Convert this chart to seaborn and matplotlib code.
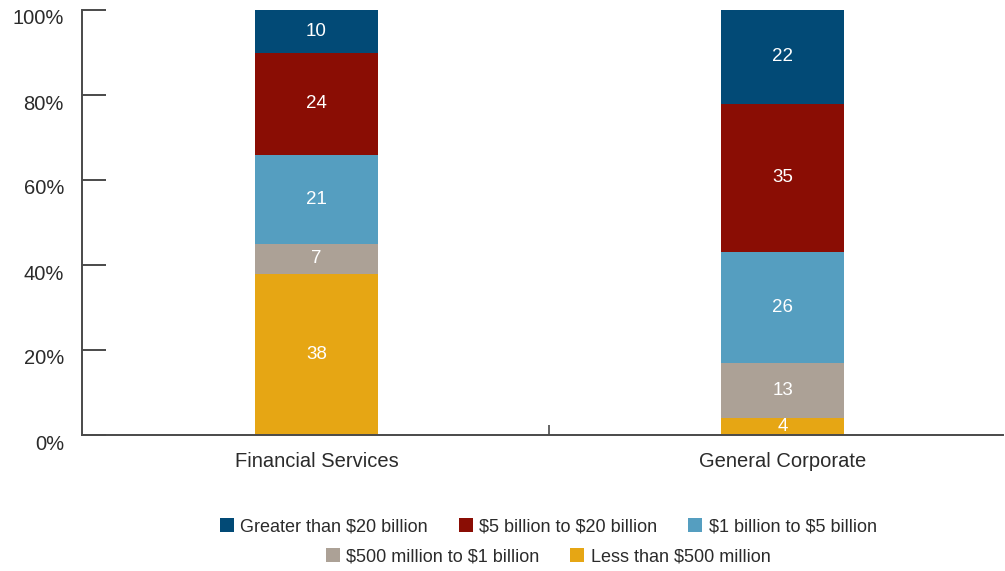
import numpy as np
import pandas as pd
import matplotlib
matplotlib.use("Agg")
import matplotlib.pyplot as plt
import matplotlib.transforms as mtransforms
from matplotlib.lines import Line2D
import seaborn as sns

# Share of companies by size, per sector (percent)
sectors = ["Financial Services", "General Corporate"]
size_bands = [
    "Less than $500 million",
    "$500 million to $1 billion",
    "$1 billion to $5 billion",
    "$5 billion to $20 billion",
    "Greater than $20 billion",
]
less_500m = [38, 4]
m500_to_1b = [7, 13]
b1_to_5b = [21, 26]
b5_to_20b = [24, 35]
over_20b = [10, 22]

band_colors = ["#e6a614", "#aca196", "#559ec0", "#8a0d04", "#024a76"]

sns.set_theme(style="white")
plt.rcParams["font.family"] = ["Liberation Sans", "DejaVu Sans"]
plt.rcParams["text.parse_math"] = False

series = [less_500m, m500_to_1b, b1_to_5b, b5_to_20b, over_20b]
cumulative = np.cumsum(np.array(series), axis=0)

fig = plt.figure(figsize=(10.05, 5.71), dpi=100)
ax = fig.add_axes([82 / 1005, 1 - 435 / 571, (1003 - 82) / 1005, (435 - 10) / 571])

# Stack by overlaying cumulative totals, tallest first
for i in range(len(series) - 1, -1, -1):
    df = pd.DataFrame({"sector": sectors, "value": cumulative[i]})
    sns.barplot(data=df, x="sector", y="value", color=band_colors[i],
                saturation=1, width=0.264, ax=ax, linewidth=0)

# Segment labels
for j in range(len(sectors)):
    for i in range(len(series)):
        top = cumulative[i][j]
        bottom = top - series[i][j]
        ax.text(j, (top + bottom) / 2, str(series[i][j]), ha="center", va="center",
                color="white", fontsize=13.5)

ax.set_xlim(-0.503, 1.473)
ax.set_ylim(0, 100)
ax.set_yticks([0, 20, 40, 60, 80, 100])
ax.set_yticklabels([f"{v}%" for v in [0, 20, 40, 60, 80, 100]])
ax.set_xlabel("")
ax.set_ylabel("")

for side in ["top", "right"]:
    ax.spines[side].set_visible(False)
for side in ["left", "bottom"]:
    ax.spines[side].set_color("#4a4a4a")
    ax.spines[side].set_linewidth(1.4)

ax.tick_params(axis="y", direction="in", length=17, width=1.4, color="#4a4a4a",
               pad=13, labelsize=14.5, labelcolor="#2b2b2b", left=True)
ax.tick_params(axis="x", length=0, pad=12, labelsize=14.5, labelcolor="#2b2b2b")
ax.set_xticks([0.5], minor=True)
ax.tick_params(axis="x", which="minor", direction="in", length=7, width=1.2,
               color="#4a4a4a", bottom=True)

offset = mtransforms.ScaledTranslation(0, -7 / 100, fig.dpi_scale_trans)
for lbl in ax.get_yticklabels():
    lbl.set_transform(lbl.get_transform() + offset)

def handle(c):
    return Line2D([], [], marker="s", linestyle="none", markersize=10,
                  markerfacecolor=c, markeredgewidth=0)

row1 = [4, 3, 2]
row2 = [1, 0]
common = dict(frameon=False, fontsize=13, handletextpad=0.35, columnspacing=1.7,
              handlelength=0.8, labelcolor="#2b2b2b", borderaxespad=0)
leg1 = fig.legend([handle(band_colors[i]) for i in row1],
                  [size_bands[i] for i in row1], ncol=3,
                  loc="center", bbox_to_anchor=(548 / 1005, 1 - 527 / 571), **common)
leg2 = fig.legend([handle(band_colors[i]) for i in row2],
                  [size_bands[i] for i in row2], ncol=2,
                  loc="center", bbox_to_anchor=(548 / 1005, 1 - 557 / 571), **common)

fig.savefig("out.png", dpi=100)
